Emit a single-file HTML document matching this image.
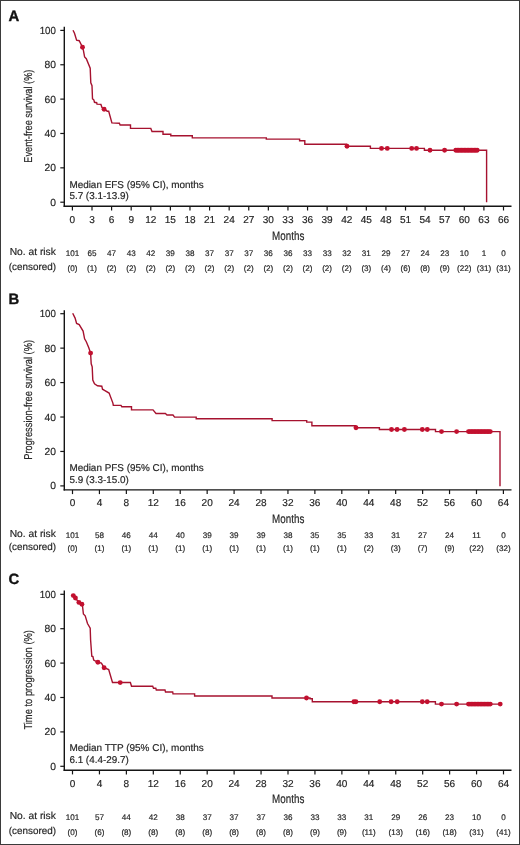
<!DOCTYPE html>
<html><head><meta charset="utf-8"><style>
html,body{margin:0;padding:0;background:#fff;}
svg{display:block;will-change:transform;}
text{font-family:"Liberation Sans",sans-serif;text-rendering:geometricPrecision;stroke:#262626;stroke-width:0.18px;}
</style></head><body>
<svg width="520" height="845" viewBox="0 0 520 845">
<rect x="0" y="0" width="520" height="845" fill="#fff"/>
<rect x="0.5" y="0.5" width="519" height="844" fill="none" stroke="#3b3b3b" stroke-width="1"/>
<text x="8.6" y="20.8" font-size="14.9" font-weight="700" fill="#111" style="stroke:#111;stroke-width:0.35px">A</text>
<line x1="64.3" y1="26.8" x2="64.3" y2="207.0" stroke="#151515" stroke-width="1.4"/>
<line x1="63.599999999999994" y1="206.3" x2="511.5" y2="206.3" stroke="#151515" stroke-width="1.4"/>
<line x1="60.3" y1="202.2" x2="64.3" y2="202.2" stroke="#151515" stroke-width="1.2"/>
<text x="55.9" y="205.7" font-size="10.3" text-anchor="end" fill="#262626">0</text>
<line x1="60.3" y1="167.84" x2="64.3" y2="167.84" stroke="#151515" stroke-width="1.2"/>
<text x="55.9" y="171.34" font-size="10.3" text-anchor="end" fill="#262626">20</text>
<line x1="60.3" y1="133.48" x2="64.3" y2="133.48" stroke="#151515" stroke-width="1.2"/>
<text x="55.9" y="136.98" font-size="10.3" text-anchor="end" fill="#262626">40</text>
<line x1="60.3" y1="99.12" x2="64.3" y2="99.12" stroke="#151515" stroke-width="1.2"/>
<text x="55.9" y="102.62" font-size="10.3" text-anchor="end" fill="#262626">60</text>
<line x1="60.3" y1="64.76" x2="64.3" y2="64.76" stroke="#151515" stroke-width="1.2"/>
<text x="55.9" y="68.26" font-size="10.3" text-anchor="end" fill="#262626">80</text>
<line x1="60.3" y1="30.4" x2="64.3" y2="30.4" stroke="#151515" stroke-width="1.2"/>
<text x="55.9" y="33.9" font-size="10.3" text-anchor="end" textLength="16.2" lengthAdjust="spacingAndGlyphs" fill="#262626">100</text>
<line x1="72.4" y1="206.3" x2="72.4" y2="210.5" stroke="#151515" stroke-width="1.2"/>
<text x="72.4" y="222.8" font-size="10.05" text-anchor="middle" fill="#262626">0</text>
<text x="72.4" y="255.8" font-size="8.1" text-anchor="middle" fill="#262626">101</text>
<text x="72.4" y="270.59999999999997" font-size="8.1" text-anchor="middle" fill="#262626">(0)</text>
<line x1="92" y1="206.3" x2="92" y2="210.5" stroke="#151515" stroke-width="1.2"/>
<text x="92" y="222.8" font-size="10.05" text-anchor="middle" fill="#262626">3</text>
<text x="92" y="255.8" font-size="8.1" text-anchor="middle" fill="#262626">65</text>
<text x="92" y="270.59999999999997" font-size="8.1" text-anchor="middle" fill="#262626">(1)</text>
<line x1="111.59" y1="206.3" x2="111.59" y2="210.5" stroke="#151515" stroke-width="1.2"/>
<text x="111.59" y="222.8" font-size="10.05" text-anchor="middle" fill="#262626">6</text>
<text x="111.59" y="255.8" font-size="8.1" text-anchor="middle" fill="#262626">47</text>
<text x="111.59" y="270.59999999999997" font-size="8.1" text-anchor="middle" fill="#262626">(2)</text>
<line x1="131.19" y1="206.3" x2="131.19" y2="210.5" stroke="#151515" stroke-width="1.2"/>
<text x="131.19" y="222.8" font-size="10.05" text-anchor="middle" fill="#262626">9</text>
<text x="131.19" y="255.8" font-size="8.1" text-anchor="middle" fill="#262626">43</text>
<text x="131.19" y="270.59999999999997" font-size="8.1" text-anchor="middle" fill="#262626">(2)</text>
<line x1="150.78" y1="206.3" x2="150.78" y2="210.5" stroke="#151515" stroke-width="1.2"/>
<text x="150.78" y="222.8" font-size="10.05" text-anchor="middle" fill="#262626">12</text>
<text x="150.78" y="255.8" font-size="8.1" text-anchor="middle" fill="#262626">42</text>
<text x="150.78" y="270.59999999999997" font-size="8.1" text-anchor="middle" fill="#262626">(2)</text>
<line x1="170.38" y1="206.3" x2="170.38" y2="210.5" stroke="#151515" stroke-width="1.2"/>
<text x="170.38" y="222.8" font-size="10.05" text-anchor="middle" fill="#262626">15</text>
<text x="170.38" y="255.8" font-size="8.1" text-anchor="middle" fill="#262626">39</text>
<text x="170.38" y="270.59999999999997" font-size="8.1" text-anchor="middle" fill="#262626">(2)</text>
<line x1="189.97" y1="206.3" x2="189.97" y2="210.5" stroke="#151515" stroke-width="1.2"/>
<text x="189.97" y="222.8" font-size="10.05" text-anchor="middle" fill="#262626">18</text>
<text x="189.97" y="255.8" font-size="8.1" text-anchor="middle" fill="#262626">38</text>
<text x="189.97" y="270.59999999999997" font-size="8.1" text-anchor="middle" fill="#262626">(2)</text>
<line x1="209.57" y1="206.3" x2="209.57" y2="210.5" stroke="#151515" stroke-width="1.2"/>
<text x="209.57" y="222.8" font-size="10.05" text-anchor="middle" fill="#262626">21</text>
<text x="209.57" y="255.8" font-size="8.1" text-anchor="middle" fill="#262626">37</text>
<text x="209.57" y="270.59999999999997" font-size="8.1" text-anchor="middle" fill="#262626">(2)</text>
<line x1="229.16" y1="206.3" x2="229.16" y2="210.5" stroke="#151515" stroke-width="1.2"/>
<text x="229.16" y="222.8" font-size="10.05" text-anchor="middle" fill="#262626">24</text>
<text x="229.16" y="255.8" font-size="8.1" text-anchor="middle" fill="#262626">37</text>
<text x="229.16" y="270.59999999999997" font-size="8.1" text-anchor="middle" fill="#262626">(2)</text>
<line x1="248.76" y1="206.3" x2="248.76" y2="210.5" stroke="#151515" stroke-width="1.2"/>
<text x="248.76" y="222.8" font-size="10.05" text-anchor="middle" fill="#262626">27</text>
<text x="248.76" y="255.8" font-size="8.1" text-anchor="middle" fill="#262626">37</text>
<text x="248.76" y="270.59999999999997" font-size="8.1" text-anchor="middle" fill="#262626">(2)</text>
<line x1="268.35" y1="206.3" x2="268.35" y2="210.5" stroke="#151515" stroke-width="1.2"/>
<text x="268.35" y="222.8" font-size="10.05" text-anchor="middle" fill="#262626">30</text>
<text x="268.35" y="255.8" font-size="8.1" text-anchor="middle" fill="#262626">36</text>
<text x="268.35" y="270.59999999999997" font-size="8.1" text-anchor="middle" fill="#262626">(2)</text>
<line x1="287.95" y1="206.3" x2="287.95" y2="210.5" stroke="#151515" stroke-width="1.2"/>
<text x="287.95" y="222.8" font-size="10.05" text-anchor="middle" fill="#262626">33</text>
<text x="287.95" y="255.8" font-size="8.1" text-anchor="middle" fill="#262626">36</text>
<text x="287.95" y="270.59999999999997" font-size="8.1" text-anchor="middle" fill="#262626">(2)</text>
<line x1="307.55" y1="206.3" x2="307.55" y2="210.5" stroke="#151515" stroke-width="1.2"/>
<text x="307.55" y="222.8" font-size="10.05" text-anchor="middle" fill="#262626">36</text>
<text x="307.55" y="255.8" font-size="8.1" text-anchor="middle" fill="#262626">33</text>
<text x="307.55" y="270.59999999999997" font-size="8.1" text-anchor="middle" fill="#262626">(2)</text>
<line x1="327.14" y1="206.3" x2="327.14" y2="210.5" stroke="#151515" stroke-width="1.2"/>
<text x="327.14" y="222.8" font-size="10.05" text-anchor="middle" fill="#262626">39</text>
<text x="327.14" y="255.8" font-size="8.1" text-anchor="middle" fill="#262626">33</text>
<text x="327.14" y="270.59999999999997" font-size="8.1" text-anchor="middle" fill="#262626">(2)</text>
<line x1="346.74" y1="206.3" x2="346.74" y2="210.5" stroke="#151515" stroke-width="1.2"/>
<text x="346.74" y="222.8" font-size="10.05" text-anchor="middle" fill="#262626">42</text>
<text x="346.74" y="255.8" font-size="8.1" text-anchor="middle" fill="#262626">32</text>
<text x="346.74" y="270.59999999999997" font-size="8.1" text-anchor="middle" fill="#262626">(2)</text>
<line x1="366.33" y1="206.3" x2="366.33" y2="210.5" stroke="#151515" stroke-width="1.2"/>
<text x="366.33" y="222.8" font-size="10.05" text-anchor="middle" fill="#262626">45</text>
<text x="366.33" y="255.8" font-size="8.1" text-anchor="middle" fill="#262626">31</text>
<text x="366.33" y="270.59999999999997" font-size="8.1" text-anchor="middle" fill="#262626">(3)</text>
<line x1="385.93" y1="206.3" x2="385.93" y2="210.5" stroke="#151515" stroke-width="1.2"/>
<text x="385.93" y="222.8" font-size="10.05" text-anchor="middle" fill="#262626">48</text>
<text x="385.93" y="255.8" font-size="8.1" text-anchor="middle" fill="#262626">29</text>
<text x="385.93" y="270.59999999999997" font-size="8.1" text-anchor="middle" fill="#262626">(4)</text>
<line x1="405.52" y1="206.3" x2="405.52" y2="210.5" stroke="#151515" stroke-width="1.2"/>
<text x="405.52" y="222.8" font-size="10.05" text-anchor="middle" fill="#262626">51</text>
<text x="405.52" y="255.8" font-size="8.1" text-anchor="middle" fill="#262626">27</text>
<text x="405.52" y="270.59999999999997" font-size="8.1" text-anchor="middle" fill="#262626">(6)</text>
<line x1="425.12" y1="206.3" x2="425.12" y2="210.5" stroke="#151515" stroke-width="1.2"/>
<text x="425.12" y="222.8" font-size="10.05" text-anchor="middle" fill="#262626">54</text>
<text x="425.12" y="255.8" font-size="8.1" text-anchor="middle" fill="#262626">24</text>
<text x="425.12" y="270.59999999999997" font-size="8.1" text-anchor="middle" fill="#262626">(8)</text>
<line x1="444.71" y1="206.3" x2="444.71" y2="210.5" stroke="#151515" stroke-width="1.2"/>
<text x="444.71" y="222.8" font-size="10.05" text-anchor="middle" fill="#262626">57</text>
<text x="444.71" y="255.8" font-size="8.1" text-anchor="middle" fill="#262626">23</text>
<text x="444.71" y="270.59999999999997" font-size="8.1" text-anchor="middle" fill="#262626">(9)</text>
<line x1="464.31" y1="206.3" x2="464.31" y2="210.5" stroke="#151515" stroke-width="1.2"/>
<text x="464.31" y="222.8" font-size="10.05" text-anchor="middle" fill="#262626">60</text>
<text x="464.31" y="255.8" font-size="8.1" text-anchor="middle" fill="#262626">10</text>
<text x="464.31" y="270.59999999999997" font-size="8.1" text-anchor="middle" fill="#262626">(22)</text>
<line x1="483.9" y1="206.3" x2="483.9" y2="210.5" stroke="#151515" stroke-width="1.2"/>
<text x="483.9" y="222.8" font-size="10.05" text-anchor="middle" fill="#262626">63</text>
<text x="483.9" y="255.8" font-size="8.1" text-anchor="middle" fill="#262626">1</text>
<text x="483.9" y="270.59999999999997" font-size="8.1" text-anchor="middle" fill="#262626">(31)</text>
<line x1="503.5" y1="206.3" x2="503.5" y2="210.5" stroke="#151515" stroke-width="1.2"/>
<text x="503.5" y="222.8" font-size="10.05" text-anchor="middle" fill="#262626">66</text>
<text x="503.5" y="255.8" font-size="8.1" text-anchor="middle" fill="#262626">0</text>
<text x="503.5" y="270.59999999999997" font-size="8.1" text-anchor="middle" fill="#262626">(31)</text>
<text x="272.1" y="239.6" font-size="12.4" textLength="32.2" lengthAdjust="spacingAndGlyphs" fill="#262626">Months</text>
<text x="9.7" y="254.8" font-size="10.1" textLength="46.2" lengthAdjust="spacingAndGlyphs" fill="#262626">No. at risk</text>
<text x="8.8" y="270.0" font-size="10" textLength="47.2" lengthAdjust="spacingAndGlyphs" fill="#262626">(censored)</text>
<text transform="translate(32.0,116.15) rotate(-90)" x="0" y="0" font-size="11.4" text-anchor="middle" textLength="93.1" lengthAdjust="spacingAndGlyphs" fill="#262626">Event-free survival (%)</text>
<text x="69.4" y="187.8" font-size="9.9" textLength="134.4" lengthAdjust="spacingAndGlyphs" fill="#262626">Median EFS (95% CI), months</text>
<text x="69.4" y="199.2" font-size="9.9" fill="#262626">5.7 (3.1-13.9)</text>
<polyline points="73,30.3 74.5,33.3 76.6,40.1 79.2,40.7 82.5,47.2 83.4,50.4 84.6,57 86.3,58.7 90.2,68.2 90.8,82.8 92,85.6 92.5,98.8 93.8,99.8 94.5,102.3 96.7,102.7 97,104.1 100.9,104.4 102,107.6 104.1,109.4 107.3,111.2 108.7,111.2 111.9,122.9 119.4,123.3 120.1,125 130.5,125 130.5,128.4 150.8,128.4 152,131.5 163,131.5 163,134.2 170.8,134.2 170.8,135.8 192.3,135.8 192.3,137.9 266.3,137.9 266.3,139.1 299.6,139.1 299.6,140.8 304.8,140.8 304.8,144.3 346.5,144.3 346.5,146.3 370.4,146.3 370.4,148.4 424.4,148.4 424.4,150.2 486.6,150.2 486.6,202.3" fill="none" stroke="#a6122f" stroke-width="1.4" stroke-linejoin="miter"/>
<circle cx="82.5" cy="47.2" r="2.45" fill="#c2102f"/>
<circle cx="104.1" cy="109.2" r="2.45" fill="#c2102f"/>
<circle cx="347" cy="146.2" r="2.45" fill="#c2102f"/>
<circle cx="381.5" cy="148.4" r="2.45" fill="#c2102f"/>
<circle cx="387.3" cy="148.4" r="2.45" fill="#c2102f"/>
<circle cx="411.7" cy="148.4" r="2.45" fill="#c2102f"/>
<circle cx="416.5" cy="148.4" r="2.45" fill="#c2102f"/>
<circle cx="430" cy="150.2" r="2.45" fill="#c2102f"/>
<circle cx="444.6" cy="150.2" r="2.45" fill="#c2102f"/>
<circle cx="455.8" cy="150.2" r="2.45" fill="#c2102f"/>
<circle cx="457.23" cy="150.2" r="2.45" fill="#c2102f"/>
<circle cx="458.65" cy="150.2" r="2.45" fill="#c2102f"/>
<circle cx="460.08" cy="150.2" r="2.45" fill="#c2102f"/>
<circle cx="461.51" cy="150.2" r="2.45" fill="#c2102f"/>
<circle cx="462.93" cy="150.2" r="2.45" fill="#c2102f"/>
<circle cx="464.36" cy="150.2" r="2.45" fill="#c2102f"/>
<circle cx="465.79" cy="150.2" r="2.45" fill="#c2102f"/>
<circle cx="467.21" cy="150.2" r="2.45" fill="#c2102f"/>
<circle cx="468.64" cy="150.2" r="2.45" fill="#c2102f"/>
<circle cx="470.07" cy="150.2" r="2.45" fill="#c2102f"/>
<circle cx="471.49" cy="150.2" r="2.45" fill="#c2102f"/>
<circle cx="472.92" cy="150.2" r="2.45" fill="#c2102f"/>
<circle cx="474.35" cy="150.2" r="2.45" fill="#c2102f"/>
<circle cx="475.77" cy="150.2" r="2.45" fill="#c2102f"/>
<circle cx="477.2" cy="150.2" r="2.45" fill="#c2102f"/>
<text x="8.6" y="303.8" font-size="14.9" font-weight="700" fill="#111" style="stroke:#111;stroke-width:0.35px">B</text>
<line x1="64.3" y1="310.2" x2="64.3" y2="490.59999999999997" stroke="#151515" stroke-width="1.4"/>
<line x1="63.599999999999994" y1="489.9" x2="511.5" y2="489.9" stroke="#151515" stroke-width="1.4"/>
<line x1="60.3" y1="485.9" x2="64.3" y2="485.9" stroke="#151515" stroke-width="1.2"/>
<text x="55.9" y="489.4" font-size="10.3" text-anchor="end" fill="#262626">0</text>
<line x1="60.3" y1="451.46" x2="64.3" y2="451.46" stroke="#151515" stroke-width="1.2"/>
<text x="55.9" y="454.96" font-size="10.3" text-anchor="end" fill="#262626">20</text>
<line x1="60.3" y1="417.02" x2="64.3" y2="417.02" stroke="#151515" stroke-width="1.2"/>
<text x="55.9" y="420.52" font-size="10.3" text-anchor="end" fill="#262626">40</text>
<line x1="60.3" y1="382.58" x2="64.3" y2="382.58" stroke="#151515" stroke-width="1.2"/>
<text x="55.9" y="386.08" font-size="10.3" text-anchor="end" fill="#262626">60</text>
<line x1="60.3" y1="348.14" x2="64.3" y2="348.14" stroke="#151515" stroke-width="1.2"/>
<text x="55.9" y="351.64" font-size="10.3" text-anchor="end" fill="#262626">80</text>
<line x1="60.3" y1="313.7" x2="64.3" y2="313.7" stroke="#151515" stroke-width="1.2"/>
<text x="55.9" y="317.2" font-size="10.3" text-anchor="end" textLength="16.2" lengthAdjust="spacingAndGlyphs" fill="#262626">100</text>
<line x1="72.5" y1="489.9" x2="72.5" y2="494.1" stroke="#151515" stroke-width="1.2"/>
<text x="72.5" y="506.3" font-size="10.05" text-anchor="middle" fill="#262626">0</text>
<text x="72.5" y="538.0" font-size="8.1" text-anchor="middle" fill="#262626">101</text>
<text x="72.5" y="550.7" font-size="8.1" text-anchor="middle" fill="#262626">(0)</text>
<line x1="99.43" y1="489.9" x2="99.43" y2="494.1" stroke="#151515" stroke-width="1.2"/>
<text x="99.43" y="506.3" font-size="10.05" text-anchor="middle" fill="#262626">4</text>
<text x="99.43" y="538.0" font-size="8.1" text-anchor="middle" fill="#262626">58</text>
<text x="99.43" y="550.7" font-size="8.1" text-anchor="middle" fill="#262626">(1)</text>
<line x1="126.36" y1="489.9" x2="126.36" y2="494.1" stroke="#151515" stroke-width="1.2"/>
<text x="126.36" y="506.3" font-size="10.05" text-anchor="middle" fill="#262626">8</text>
<text x="126.36" y="538.0" font-size="8.1" text-anchor="middle" fill="#262626">46</text>
<text x="126.36" y="550.7" font-size="8.1" text-anchor="middle" fill="#262626">(1)</text>
<line x1="153.29" y1="489.9" x2="153.29" y2="494.1" stroke="#151515" stroke-width="1.2"/>
<text x="153.29" y="506.3" font-size="10.05" text-anchor="middle" fill="#262626">12</text>
<text x="153.29" y="538.0" font-size="8.1" text-anchor="middle" fill="#262626">44</text>
<text x="153.29" y="550.7" font-size="8.1" text-anchor="middle" fill="#262626">(1)</text>
<line x1="180.22" y1="489.9" x2="180.22" y2="494.1" stroke="#151515" stroke-width="1.2"/>
<text x="180.22" y="506.3" font-size="10.05" text-anchor="middle" fill="#262626">16</text>
<text x="180.22" y="538.0" font-size="8.1" text-anchor="middle" fill="#262626">40</text>
<text x="180.22" y="550.7" font-size="8.1" text-anchor="middle" fill="#262626">(1)</text>
<line x1="207.16" y1="489.9" x2="207.16" y2="494.1" stroke="#151515" stroke-width="1.2"/>
<text x="207.16" y="506.3" font-size="10.05" text-anchor="middle" fill="#262626">20</text>
<text x="207.16" y="538.0" font-size="8.1" text-anchor="middle" fill="#262626">39</text>
<text x="207.16" y="550.7" font-size="8.1" text-anchor="middle" fill="#262626">(1)</text>
<line x1="234.09" y1="489.9" x2="234.09" y2="494.1" stroke="#151515" stroke-width="1.2"/>
<text x="234.09" y="506.3" font-size="10.05" text-anchor="middle" fill="#262626">24</text>
<text x="234.09" y="538.0" font-size="8.1" text-anchor="middle" fill="#262626">39</text>
<text x="234.09" y="550.7" font-size="8.1" text-anchor="middle" fill="#262626">(1)</text>
<line x1="261.02" y1="489.9" x2="261.02" y2="494.1" stroke="#151515" stroke-width="1.2"/>
<text x="261.02" y="506.3" font-size="10.05" text-anchor="middle" fill="#262626">28</text>
<text x="261.02" y="538.0" font-size="8.1" text-anchor="middle" fill="#262626">39</text>
<text x="261.02" y="550.7" font-size="8.1" text-anchor="middle" fill="#262626">(1)</text>
<line x1="287.95" y1="489.9" x2="287.95" y2="494.1" stroke="#151515" stroke-width="1.2"/>
<text x="287.95" y="506.3" font-size="10.05" text-anchor="middle" fill="#262626">32</text>
<text x="287.95" y="538.0" font-size="8.1" text-anchor="middle" fill="#262626">38</text>
<text x="287.95" y="550.7" font-size="8.1" text-anchor="middle" fill="#262626">(1)</text>
<line x1="314.88" y1="489.9" x2="314.88" y2="494.1" stroke="#151515" stroke-width="1.2"/>
<text x="314.88" y="506.3" font-size="10.05" text-anchor="middle" fill="#262626">36</text>
<text x="314.88" y="538.0" font-size="8.1" text-anchor="middle" fill="#262626">35</text>
<text x="314.88" y="550.7" font-size="8.1" text-anchor="middle" fill="#262626">(1)</text>
<line x1="341.81" y1="489.9" x2="341.81" y2="494.1" stroke="#151515" stroke-width="1.2"/>
<text x="341.81" y="506.3" font-size="10.05" text-anchor="middle" fill="#262626">40</text>
<text x="341.81" y="538.0" font-size="8.1" text-anchor="middle" fill="#262626">35</text>
<text x="341.81" y="550.7" font-size="8.1" text-anchor="middle" fill="#262626">(1)</text>
<line x1="368.74" y1="489.9" x2="368.74" y2="494.1" stroke="#151515" stroke-width="1.2"/>
<text x="368.74" y="506.3" font-size="10.05" text-anchor="middle" fill="#262626">44</text>
<text x="368.74" y="538.0" font-size="8.1" text-anchor="middle" fill="#262626">33</text>
<text x="368.74" y="550.7" font-size="8.1" text-anchor="middle" fill="#262626">(2)</text>
<line x1="395.67" y1="489.9" x2="395.67" y2="494.1" stroke="#151515" stroke-width="1.2"/>
<text x="395.67" y="506.3" font-size="10.05" text-anchor="middle" fill="#262626">48</text>
<text x="395.67" y="538.0" font-size="8.1" text-anchor="middle" fill="#262626">31</text>
<text x="395.67" y="550.7" font-size="8.1" text-anchor="middle" fill="#262626">(3)</text>
<line x1="422.61" y1="489.9" x2="422.61" y2="494.1" stroke="#151515" stroke-width="1.2"/>
<text x="422.61" y="506.3" font-size="10.05" text-anchor="middle" fill="#262626">52</text>
<text x="422.61" y="538.0" font-size="8.1" text-anchor="middle" fill="#262626">27</text>
<text x="422.61" y="550.7" font-size="8.1" text-anchor="middle" fill="#262626">(7)</text>
<line x1="449.54" y1="489.9" x2="449.54" y2="494.1" stroke="#151515" stroke-width="1.2"/>
<text x="449.54" y="506.3" font-size="10.05" text-anchor="middle" fill="#262626">56</text>
<text x="449.54" y="538.0" font-size="8.1" text-anchor="middle" fill="#262626">24</text>
<text x="449.54" y="550.7" font-size="8.1" text-anchor="middle" fill="#262626">(9)</text>
<line x1="476.47" y1="489.9" x2="476.47" y2="494.1" stroke="#151515" stroke-width="1.2"/>
<text x="476.47" y="506.3" font-size="10.05" text-anchor="middle" fill="#262626">60</text>
<text x="476.47" y="538.0" font-size="8.1" text-anchor="middle" fill="#262626">11</text>
<text x="476.47" y="550.7" font-size="8.1" text-anchor="middle" fill="#262626">(22)</text>
<line x1="503.4" y1="489.9" x2="503.4" y2="494.1" stroke="#151515" stroke-width="1.2"/>
<text x="503.4" y="506.3" font-size="10.05" text-anchor="middle" fill="#262626">64</text>
<text x="503.4" y="538.0" font-size="8.1" text-anchor="middle" fill="#262626">0</text>
<text x="503.4" y="550.7" font-size="8.1" text-anchor="middle" fill="#262626">(32)</text>
<text x="272.1" y="523.0" font-size="12.4" textLength="32.2" lengthAdjust="spacingAndGlyphs" fill="#262626">Months</text>
<text x="9.7" y="537.0" font-size="10.1" textLength="46.2" lengthAdjust="spacingAndGlyphs" fill="#262626">No. at risk</text>
<text x="8.8" y="550.1" font-size="10" textLength="47.2" lengthAdjust="spacingAndGlyphs" fill="#262626">(censored)</text>
<text transform="translate(32.0,399.9) rotate(-90)" x="0" y="0" font-size="11.4" text-anchor="middle" textLength="119.8" lengthAdjust="spacingAndGlyphs" fill="#262626">Progression-free survival (%)</text>
<text x="69.4" y="470.9" font-size="9.9" textLength="134.4" lengthAdjust="spacingAndGlyphs" fill="#262626">Median PFS (95% CI), months</text>
<text x="69.4" y="483.1" font-size="9.9" fill="#262626">5.9 (3.3-15.0)</text>
<polyline points="72.7,313.3 75.1,318.1 76.6,323.4 79.2,324.6 83.1,331.1 84.6,338.8 86.3,341.7 88.7,347.6 90.6,353.1 91.2,363.8 92.2,366.9 92.8,380 94.5,383.8 97.5,385.8 101.8,386.2 102.5,389.2 104.5,390.4 109.1,393.1 112.9,403.1 113.3,405.2 121,405.4 121.8,406.7 131.5,406.7 131.5,409.9 153,409.9 156,413.5 165.4,413.5 167,415 173,415 174.6,417.1 196.2,417.1 196.2,418.8 272.1,418.8 272.1,420.6 306.7,420.6 306.7,422.1 311.9,422.1 311.9,425.7 355.8,425.7 355.8,427.7 379.4,427.7 379.4,429.5 435.5,429.5 435.5,431.6 500,431.6 500,486.2" fill="none" stroke="#a6122f" stroke-width="1.4" stroke-linejoin="miter"/>
<circle cx="90.6" cy="353.1" r="2.45" fill="#c2102f"/>
<circle cx="356" cy="427.8" r="2.45" fill="#c2102f"/>
<circle cx="391.5" cy="429.5" r="2.45" fill="#c2102f"/>
<circle cx="397.1" cy="429.5" r="2.45" fill="#c2102f"/>
<circle cx="404.4" cy="429.5" r="2.45" fill="#c2102f"/>
<circle cx="422.3" cy="429.5" r="2.45" fill="#c2102f"/>
<circle cx="427.3" cy="429.5" r="2.45" fill="#c2102f"/>
<circle cx="441.5" cy="431.6" r="2.45" fill="#c2102f"/>
<circle cx="456.6" cy="431.6" r="2.45" fill="#c2102f"/>
<circle cx="468.5" cy="431.6" r="2.45" fill="#c2102f"/>
<circle cx="469.95" cy="431.6" r="2.45" fill="#c2102f"/>
<circle cx="471.41" cy="431.6" r="2.45" fill="#c2102f"/>
<circle cx="472.86" cy="431.6" r="2.45" fill="#c2102f"/>
<circle cx="474.31" cy="431.6" r="2.45" fill="#c2102f"/>
<circle cx="475.77" cy="431.6" r="2.45" fill="#c2102f"/>
<circle cx="477.22" cy="431.6" r="2.45" fill="#c2102f"/>
<circle cx="478.67" cy="431.6" r="2.45" fill="#c2102f"/>
<circle cx="480.13" cy="431.6" r="2.45" fill="#c2102f"/>
<circle cx="481.58" cy="431.6" r="2.45" fill="#c2102f"/>
<circle cx="483.03" cy="431.6" r="2.45" fill="#c2102f"/>
<circle cx="484.49" cy="431.6" r="2.45" fill="#c2102f"/>
<circle cx="485.94" cy="431.6" r="2.45" fill="#c2102f"/>
<circle cx="487.39" cy="431.6" r="2.45" fill="#c2102f"/>
<circle cx="488.85" cy="431.6" r="2.45" fill="#c2102f"/>
<circle cx="490.3" cy="431.6" r="2.45" fill="#c2102f"/>
<text x="8.6" y="584.4" font-size="14.9" font-weight="700" fill="#111" style="stroke:#111;stroke-width:0.35px">C</text>
<line x1="64.3" y1="590.4" x2="64.3" y2="770.9000000000001" stroke="#151515" stroke-width="1.4"/>
<line x1="63.599999999999994" y1="770.2" x2="511.5" y2="770.2" stroke="#151515" stroke-width="1.4"/>
<line x1="60.3" y1="766.3" x2="64.3" y2="766.3" stroke="#151515" stroke-width="1.2"/>
<text x="55.9" y="769.8" font-size="10.3" text-anchor="end" fill="#262626">0</text>
<line x1="60.3" y1="731.9" x2="64.3" y2="731.9" stroke="#151515" stroke-width="1.2"/>
<text x="55.9" y="735.4" font-size="10.3" text-anchor="end" fill="#262626">20</text>
<line x1="60.3" y1="697.5" x2="64.3" y2="697.5" stroke="#151515" stroke-width="1.2"/>
<text x="55.9" y="701" font-size="10.3" text-anchor="end" fill="#262626">40</text>
<line x1="60.3" y1="663.1" x2="64.3" y2="663.1" stroke="#151515" stroke-width="1.2"/>
<text x="55.9" y="666.6" font-size="10.3" text-anchor="end" fill="#262626">60</text>
<line x1="60.3" y1="628.7" x2="64.3" y2="628.7" stroke="#151515" stroke-width="1.2"/>
<text x="55.9" y="632.2" font-size="10.3" text-anchor="end" fill="#262626">80</text>
<line x1="60.3" y1="594.3" x2="64.3" y2="594.3" stroke="#151515" stroke-width="1.2"/>
<text x="55.9" y="597.8" font-size="10.3" text-anchor="end" textLength="16.2" lengthAdjust="spacingAndGlyphs" fill="#262626">100</text>
<line x1="72.5" y1="770.2" x2="72.5" y2="774.4" stroke="#151515" stroke-width="1.2"/>
<text x="72.5" y="786.5" font-size="10.05" text-anchor="middle" fill="#262626">0</text>
<text x="72.5" y="819.9" font-size="8.1" text-anchor="middle" fill="#262626">101</text>
<text x="72.5" y="835.0" font-size="8.1" text-anchor="middle" fill="#262626">(0)</text>
<line x1="99.44" y1="770.2" x2="99.44" y2="774.4" stroke="#151515" stroke-width="1.2"/>
<text x="99.44" y="786.5" font-size="10.05" text-anchor="middle" fill="#262626">4</text>
<text x="99.44" y="819.9" font-size="8.1" text-anchor="middle" fill="#262626">57</text>
<text x="99.44" y="835.0" font-size="8.1" text-anchor="middle" fill="#262626">(6)</text>
<line x1="126.38" y1="770.2" x2="126.38" y2="774.4" stroke="#151515" stroke-width="1.2"/>
<text x="126.38" y="786.5" font-size="10.05" text-anchor="middle" fill="#262626">8</text>
<text x="126.38" y="819.9" font-size="8.1" text-anchor="middle" fill="#262626">44</text>
<text x="126.38" y="835.0" font-size="8.1" text-anchor="middle" fill="#262626">(8)</text>
<line x1="153.31" y1="770.2" x2="153.31" y2="774.4" stroke="#151515" stroke-width="1.2"/>
<text x="153.31" y="786.5" font-size="10.05" text-anchor="middle" fill="#262626">12</text>
<text x="153.31" y="819.9" font-size="8.1" text-anchor="middle" fill="#262626">42</text>
<text x="153.31" y="835.0" font-size="8.1" text-anchor="middle" fill="#262626">(8)</text>
<line x1="180.25" y1="770.2" x2="180.25" y2="774.4" stroke="#151515" stroke-width="1.2"/>
<text x="180.25" y="786.5" font-size="10.05" text-anchor="middle" fill="#262626">16</text>
<text x="180.25" y="819.9" font-size="8.1" text-anchor="middle" fill="#262626">38</text>
<text x="180.25" y="835.0" font-size="8.1" text-anchor="middle" fill="#262626">(8)</text>
<line x1="207.19" y1="770.2" x2="207.19" y2="774.4" stroke="#151515" stroke-width="1.2"/>
<text x="207.19" y="786.5" font-size="10.05" text-anchor="middle" fill="#262626">20</text>
<text x="207.19" y="819.9" font-size="8.1" text-anchor="middle" fill="#262626">37</text>
<text x="207.19" y="835.0" font-size="8.1" text-anchor="middle" fill="#262626">(8)</text>
<line x1="234.12" y1="770.2" x2="234.12" y2="774.4" stroke="#151515" stroke-width="1.2"/>
<text x="234.12" y="786.5" font-size="10.05" text-anchor="middle" fill="#262626">24</text>
<text x="234.12" y="819.9" font-size="8.1" text-anchor="middle" fill="#262626">37</text>
<text x="234.12" y="835.0" font-size="8.1" text-anchor="middle" fill="#262626">(8)</text>
<line x1="261.06" y1="770.2" x2="261.06" y2="774.4" stroke="#151515" stroke-width="1.2"/>
<text x="261.06" y="786.5" font-size="10.05" text-anchor="middle" fill="#262626">28</text>
<text x="261.06" y="819.9" font-size="8.1" text-anchor="middle" fill="#262626">37</text>
<text x="261.06" y="835.0" font-size="8.1" text-anchor="middle" fill="#262626">(8)</text>
<line x1="288" y1="770.2" x2="288" y2="774.4" stroke="#151515" stroke-width="1.2"/>
<text x="288" y="786.5" font-size="10.05" text-anchor="middle" fill="#262626">32</text>
<text x="288" y="819.9" font-size="8.1" text-anchor="middle" fill="#262626">36</text>
<text x="288" y="835.0" font-size="8.1" text-anchor="middle" fill="#262626">(8)</text>
<line x1="314.94" y1="770.2" x2="314.94" y2="774.4" stroke="#151515" stroke-width="1.2"/>
<text x="314.94" y="786.5" font-size="10.05" text-anchor="middle" fill="#262626">36</text>
<text x="314.94" y="819.9" font-size="8.1" text-anchor="middle" fill="#262626">33</text>
<text x="314.94" y="835.0" font-size="8.1" text-anchor="middle" fill="#262626">(9)</text>
<line x1="341.88" y1="770.2" x2="341.88" y2="774.4" stroke="#151515" stroke-width="1.2"/>
<text x="341.88" y="786.5" font-size="10.05" text-anchor="middle" fill="#262626">40</text>
<text x="341.88" y="819.9" font-size="8.1" text-anchor="middle" fill="#262626">33</text>
<text x="341.88" y="835.0" font-size="8.1" text-anchor="middle" fill="#262626">(9)</text>
<line x1="368.81" y1="770.2" x2="368.81" y2="774.4" stroke="#151515" stroke-width="1.2"/>
<text x="368.81" y="786.5" font-size="10.05" text-anchor="middle" fill="#262626">44</text>
<text x="368.81" y="819.9" font-size="8.1" text-anchor="middle" fill="#262626">31</text>
<text x="368.81" y="835.0" font-size="8.1" text-anchor="middle" fill="#262626">(11)</text>
<line x1="395.75" y1="770.2" x2="395.75" y2="774.4" stroke="#151515" stroke-width="1.2"/>
<text x="395.75" y="786.5" font-size="10.05" text-anchor="middle" fill="#262626">48</text>
<text x="395.75" y="819.9" font-size="8.1" text-anchor="middle" fill="#262626">29</text>
<text x="395.75" y="835.0" font-size="8.1" text-anchor="middle" fill="#262626">(13)</text>
<line x1="422.69" y1="770.2" x2="422.69" y2="774.4" stroke="#151515" stroke-width="1.2"/>
<text x="422.69" y="786.5" font-size="10.05" text-anchor="middle" fill="#262626">52</text>
<text x="422.69" y="819.9" font-size="8.1" text-anchor="middle" fill="#262626">26</text>
<text x="422.69" y="835.0" font-size="8.1" text-anchor="middle" fill="#262626">(16)</text>
<line x1="449.62" y1="770.2" x2="449.62" y2="774.4" stroke="#151515" stroke-width="1.2"/>
<text x="449.62" y="786.5" font-size="10.05" text-anchor="middle" fill="#262626">56</text>
<text x="449.62" y="819.9" font-size="8.1" text-anchor="middle" fill="#262626">23</text>
<text x="449.62" y="835.0" font-size="8.1" text-anchor="middle" fill="#262626">(18)</text>
<line x1="476.56" y1="770.2" x2="476.56" y2="774.4" stroke="#151515" stroke-width="1.2"/>
<text x="476.56" y="786.5" font-size="10.05" text-anchor="middle" fill="#262626">60</text>
<text x="476.56" y="819.9" font-size="8.1" text-anchor="middle" fill="#262626">10</text>
<text x="476.56" y="835.0" font-size="8.1" text-anchor="middle" fill="#262626">(31)</text>
<line x1="503.5" y1="770.2" x2="503.5" y2="774.4" stroke="#151515" stroke-width="1.2"/>
<text x="503.5" y="786.5" font-size="10.05" text-anchor="middle" fill="#262626">64</text>
<text x="503.5" y="819.9" font-size="8.1" text-anchor="middle" fill="#262626">0</text>
<text x="503.5" y="835.0" font-size="8.1" text-anchor="middle" fill="#262626">(41)</text>
<text x="272.1" y="803.3" font-size="12.4" textLength="32.2" lengthAdjust="spacingAndGlyphs" fill="#262626">Months</text>
<text x="9.7" y="818.9" font-size="10.1" textLength="46.2" lengthAdjust="spacingAndGlyphs" fill="#262626">No. at risk</text>
<text x="8.8" y="834.4" font-size="10" textLength="47.2" lengthAdjust="spacingAndGlyphs" fill="#262626">(censored)</text>
<text transform="translate(32.0,679.8) rotate(-90)" x="0" y="0" font-size="11.4" text-anchor="middle" textLength="99.6" lengthAdjust="spacingAndGlyphs" fill="#262626">Time to progression (%)</text>
<text x="69.4" y="751.3" font-size="9.9" textLength="134.4" lengthAdjust="spacingAndGlyphs" fill="#262626">Median TTP (95% CI), months</text>
<text x="69.4" y="763.4" font-size="9.9" fill="#262626">6.1 (4.4-29.7)</text>
<polyline points="73.2,595.6 75.3,598 78.9,602.4 82,604.4 82.5,605.8 83.4,614 85.2,615.8 87.5,623.5 90.2,628.2 90.6,640 91.8,656.2 92.9,656.5 93.7,660 97.9,662.3 101.4,663.1 104.1,667.7 108.7,669.6 112.5,682.5 130.4,682.5 131.5,686.2 152.7,686.2 153.5,688.2 155.8,688.2 156.3,690 165,690 165.5,692 172.7,692 173,693.9 194.6,693.9 194.6,696 272,696 272,698 310,698 310,698.8 312.3,698.8 312.3,701.8 435.4,701.8 435.4,704.1 500.2,704.1" fill="none" stroke="#a6122f" stroke-width="1.4" stroke-linejoin="miter"/>
<circle cx="73.3" cy="595.6" r="2.45" fill="#c2102f"/>
<circle cx="75.4" cy="598" r="2.45" fill="#c2102f"/>
<circle cx="78.9" cy="602.4" r="2.45" fill="#c2102f"/>
<circle cx="81.9" cy="604.3" r="2.45" fill="#c2102f"/>
<circle cx="97.9" cy="662.3" r="2.45" fill="#c2102f"/>
<circle cx="104.1" cy="667.7" r="2.45" fill="#c2102f"/>
<circle cx="120.2" cy="682.6" r="2.45" fill="#c2102f"/>
<circle cx="306.5" cy="698" r="2.45" fill="#c2102f"/>
<circle cx="353.9" cy="701.8" r="2.45" fill="#c2102f"/>
<circle cx="355.9" cy="701.8" r="2.45" fill="#c2102f"/>
<circle cx="379.7" cy="701.8" r="2.45" fill="#c2102f"/>
<circle cx="391.1" cy="701.8" r="2.45" fill="#c2102f"/>
<circle cx="397.2" cy="701.8" r="2.45" fill="#c2102f"/>
<circle cx="422.3" cy="701.8" r="2.45" fill="#c2102f"/>
<circle cx="427.2" cy="701.8" r="2.45" fill="#c2102f"/>
<circle cx="441.5" cy="704.1" r="2.45" fill="#c2102f"/>
<circle cx="456.6" cy="704.1" r="2.45" fill="#c2102f"/>
<circle cx="468.5" cy="704.1" r="2.45" fill="#c2102f"/>
<circle cx="469.95" cy="704.1" r="2.45" fill="#c2102f"/>
<circle cx="471.41" cy="704.1" r="2.45" fill="#c2102f"/>
<circle cx="472.86" cy="704.1" r="2.45" fill="#c2102f"/>
<circle cx="474.31" cy="704.1" r="2.45" fill="#c2102f"/>
<circle cx="475.77" cy="704.1" r="2.45" fill="#c2102f"/>
<circle cx="477.22" cy="704.1" r="2.45" fill="#c2102f"/>
<circle cx="478.67" cy="704.1" r="2.45" fill="#c2102f"/>
<circle cx="480.13" cy="704.1" r="2.45" fill="#c2102f"/>
<circle cx="481.58" cy="704.1" r="2.45" fill="#c2102f"/>
<circle cx="483.03" cy="704.1" r="2.45" fill="#c2102f"/>
<circle cx="484.49" cy="704.1" r="2.45" fill="#c2102f"/>
<circle cx="485.94" cy="704.1" r="2.45" fill="#c2102f"/>
<circle cx="487.39" cy="704.1" r="2.45" fill="#c2102f"/>
<circle cx="488.85" cy="704.1" r="2.45" fill="#c2102f"/>
<circle cx="490.3" cy="704.1" r="2.45" fill="#c2102f"/>
<circle cx="500.2" cy="704.1" r="2.45" fill="#c2102f"/>
</svg>
</body></html>
